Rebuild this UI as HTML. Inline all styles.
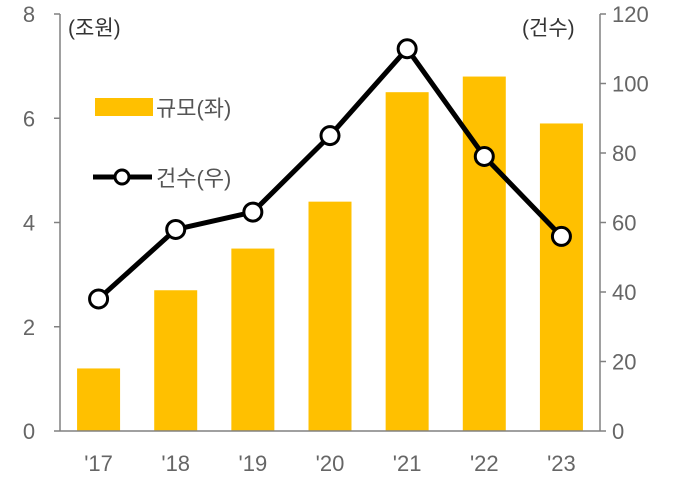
<!DOCTYPE html>
<html><head><meta charset="utf-8"><style>
body{margin:0;background:#fff;}
svg{display:block;font-family:"Liberation Sans","Noto Sans CJK KR",sans-serif;}
</style></head><body>
<svg id="chart" width="697" height="498"></svg>
<script>
const categories = ["'17","'18","'19","'20","'21","'22","'23"];
const sizeValues = [1.2, 2.7, 3.5, 4.4, 6.5, 6.8, 5.9];
const countValues = [38, 58, 63, 85, 110, 79, 56];
const leftTicks = [0, 2, 4, 6, 8];
const rightTicks = [0, 20, 40, 60, 80, 100, 120];

const svg = document.getElementById('chart');
const NS = 'http://www.w3.org/2000/svg';
const X0 = 60, X1 = 600, Y0 = 431, Y1 = 14;
const band = (X1 - X0) / categories.length;
const xC = i => X0 + band * (i + 0.5);
const yL = v => Y0 - (v / 8) * (Y0 - Y1);
const yR = v => Y0 - (v / 120) * (Y0 - Y1);
function mk(tag, attrs, parent) {
  const e = document.createElementNS(NS, tag);
  for (const k in attrs) e.setAttribute(k, attrs[k]);
  (parent || svg).appendChild(e);
  return e;
}
// bars
sizeValues.forEach((v, i) => {
  const r = mk('rect', {x: xC(i) - 21.5, y: yL(v), width: 43, height: Y0 - yL(v), fill: '#FFC000'});
  
  
});
// axes
const axL = mk('line', {x1: X0, y1: Y1, x2: X0, y2: Y0, stroke: '#808080', 'stroke-width': 1.5});


const axR = mk('line', {x1: X1, y1: Y1, x2: X1, y2: Y0, stroke: '#808080', 'stroke-width': 1.5});


const axB = mk('line', {x1: X0, y1: Y0, x2: X1, y2: Y0, stroke: '#808080', 'stroke-width': 1.5});


leftTicks.forEach(t => {
  mk('line', {x1: X0 - 6, y1: yL(t), x2: X0, y2: yL(t), stroke: '#808080', 'stroke-width': 1.5});
  const tx = mk('text', {x: 29, y: yL(t) + 8, 'font-size': 22, fill: '#666', 'text-anchor': 'middle'});
  tx.textContent = t;
  
  
});
rightTicks.forEach(t => {
  mk('line', {x1: X1, y1: yR(t), x2: X1 + 6, y2: yR(t), stroke: '#808080', 'stroke-width': 1.5});
  const tx = mk('text', {x: 612, y: yR(t) + 8, 'font-size': 22, fill: '#666'});
  tx.textContent = t;
  
  
});
categories.forEach((c, i) => {
  const tx = mk('text', {x: xC(i), y: 471, 'font-size': 22, fill: '#666', 'text-anchor': 'middle'});
  tx.textContent = c;
  
  
});
// line
const pts = countValues.map((v, i) => xC(i) + ',' + yR(v)).join(' ');
const pl = mk('polyline', {points: pts, fill: 'none', stroke: '#000', 'stroke-width': 5, 'stroke-linejoin': 'round'});


countValues.forEach((v, i) => {
  const c = mk('circle', {cx: xC(i), cy: yR(v), r: 9, fill: '#fff', stroke: '#000', 'stroke-width': 3});
  
  
});
</script>
<svg style="position:absolute;left:0;top:0" width="697" height="498">
  <text x="68" y="35" font-size="21" fill="#333" font-family="Liberation Sans,Noto Sans CJK KR,sans-serif">(조원)</text>
  <text x="522" y="35" font-size="21" fill="#333" font-family="Liberation Sans,Noto Sans CJK KR,sans-serif">(건수)</text>
  <g>
    <rect x="95" y="98" width="58" height="18" fill="#FFC000"/>
    <text x="156" y="116" font-size="22" fill="#555" font-family="Liberation Sans,Noto Sans CJK KR,sans-serif">규모(좌)</text>
  </g>
  <g>
    <line x1="93" y1="177" x2="152" y2="177" stroke="#000" stroke-width="5"/>
    <circle cx="122" cy="177" r="7" fill="#fff" stroke="#000" stroke-width="3"/>
    <text x="156" y="186" font-size="22" fill="#555" font-family="Liberation Sans,Noto Sans CJK KR,sans-serif">건수(우)</text>
  </g>
</svg>
</body></html>
